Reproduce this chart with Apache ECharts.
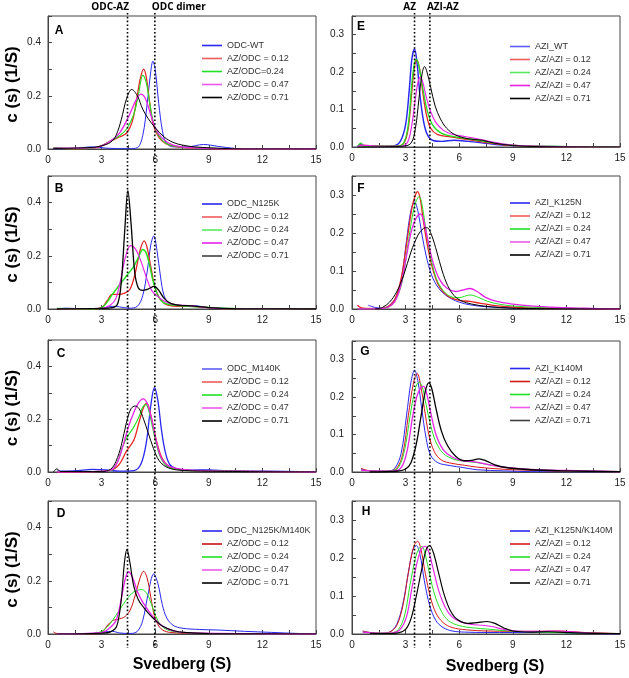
<!DOCTYPE html>
<html><head><meta charset="utf-8">
<script src="https://cdn.jsdelivr.net/npm/echarts@6/dist/echarts.min.js"></script>
<style>html,body{margin:0;padding:0;background:#fff}#c{width:629px;height:678px}</style>
</head><body><div id="c"></div>
<script>
// ---------- DATA (Svedberg, c(s)) ----------
const xTicksLabels = [0, 3, 6, 9, 12, 15];
const leftLines = [4.45, 5.98];
const rightLines = [3.5, 4.36];
const leftLineLabels = ['ODC-AZ', 'ODC dimer'];
const rightLineLabels = ['AZ', 'AZI-AZ'];

const namesA = ['ODC-WT', 'AZ/ODC = 0.12', 'AZ/ODC=0.24', 'AZ/ODC = 0.47', 'AZ/ODC = 0.71'];
const namesB = ['ODC_N125K', 'AZ/ODC = 0.12', 'AZ/ODC = 0.24', 'AZ/ODC = 0.47', 'AZ/ODC = 0.71'];
const namesC = ['ODC_M140K', 'AZ/ODC = 0.12', 'AZ/ODC = 0.24', 'AZ/ODC = 0.47', 'AZ/ODC = 0.71'];
const namesD = ['ODC_N125K/M140K', 'AZ/ODC = 0.12', 'AZ/ODC = 0.24', 'AZ/ODC = 0.47', 'AZ/ODC = 0.71'];
const namesE = ['AZI_WT', 'AZ/AZI = 0.12', 'AZ/AZI = 0.24', 'AZ/AZI = 0.47', 'AZ/AZI = 0.71'];
const namesF = ['AZI_K125N', 'AZ/AZI = 0.12', 'AZ/AZI = 0.24', 'AZ/AZI = 0.47', 'AZ/AZI = 0.71'];
const namesG = ['AZI_K140M', 'AZ/AZI = 0.12', 'AZ/AZI = 0.24', 'AZ/AZI = 0.47', 'AZ/AZI = 0.71'];
const namesH = ['AZI_K125N/K140M', 'AZ/AZI = 0.12', 'AZ/AZI = 0.24', 'AZ/AZI = 0.47', 'AZ/AZI = 0.71'];

const A_WT = [[0.3,0],[1.5,0.002],[2.5,0.008],[3.3,0.003],[4.5,0.001],[5.0,0.005],[5.3,0.05],[5.55,0.17],[5.75,0.29],[5.87,0.33],[6.0,0.3],[6.2,0.17],[6.4,0.07],[6.6,0.025],[7,0.008],[7.8,0.008],[8.7,0.017],[9.5,0.01],[10.5,0.002],[12,0],[15,0]];
const A_12 = [[0.3,0.003],[1.5,0],[2.5,0.003],[3.0,0.012],[3.5,0.03],[4.0,0.045],[4.4,0.06],[4.7,0.1],[4.95,0.18],[5.15,0.26],[5.35,0.3],[5.5,0.27],[5.7,0.17],[5.9,0.09],[6.2,0.045],[6.6,0.02],[7.2,0.008],[8.5,0.003],[10,0],[15,0]];
const A_24 = [[0.3,0.005],[1.5,0],[2.5,0.003],[3.0,0.012],[3.5,0.03],[4.0,0.05],[4.4,0.075],[4.8,0.13],[5.05,0.2],[5.31,0.278],[5.5,0.25],[5.7,0.17],[5.9,0.1],[6.2,0.05],[6.6,0.022],[7.2,0.01],[8.5,0.004],[10,0.001],[15,0]];
const A_47 = [[0.3,0.003],[2.5,0.004],[3.0,0.012],[3.5,0.03],[4.0,0.06],[4.5,0.12],[4.9,0.18],[5.2,0.206],[5.45,0.19],[5.7,0.14],[6.0,0.08],[6.4,0.04],[7.0,0.015],[8,0.005],[10,0.001],[15,0]];
const A_71 = [[0.3,0.002],[2.5,0.006],[3.0,0.012],[3.5,0.025],[3.8,0.05],[4.1,0.11],[4.4,0.19],[4.69,0.224],[5.0,0.2],[5.3,0.15],[5.6,0.115],[6.0,0.08],[6.5,0.045],[7.0,0.025],[7.5,0.015],[8.2,0.008],[9.5,0.003],[11,0],[15,0]];

const B_WT = [[0.5,0],[1,0.003],[2,0.001],[3,0.002],[3.6,0.01],[4.0,0.008],[4.5,0.003],[5.0,0.01],[5.3,0.05],[5.55,0.14],[5.75,0.24],[5.92,0.275],[6.1,0.22],[6.3,0.12],[6.5,0.05],[6.8,0.02],[7.5,0.01],[8.2,0.012],[9,0.005],[10.5,0.001],[15,0]];
const B_12 = [[0.5,0],[2.5,0],[3.0,0.005],[3.3,0.03],[3.6,0.055],[3.9,0.055],[4.3,0.06],[4.6,0.075],[4.9,0.14],[5.15,0.22],[5.38,0.256],[5.55,0.23],[5.75,0.16],[6.0,0.08],[6.3,0.035],[6.7,0.015],[7.5,0.01],[8,0.01],[9,0.005],[10,0.001],[15,0]];
const B_24 = [[0.5,0.002],[2.5,0],[3.0,0.005],[3.3,0.025],[3.6,0.055],[4.0,0.09],[4.4,0.125],[4.8,0.16],[5.1,0.2],[5.3,0.224],[5.5,0.21],[5.7,0.16],[5.9,0.1],[6.2,0.045],[6.6,0.02],[7.5,0.012],[8.5,0.008],[10,0.002],[15,0]];
const B_47 = [[0.5,0],[3.0,0.003],[3.5,0.015],[3.8,0.04],[4.1,0.12],[4.35,0.2],[4.62,0.238],[4.9,0.225],[5.2,0.18],[5.5,0.12],[5.8,0.07],[6.1,0.05],[6.5,0.03],[7.0,0.018],[8,0.012],[9,0.005],[10,0.001],[15,0]];
const B_71 = [[0.5,0],[3.0,0.002],[3.6,0.005],[3.9,0.02],[4.1,0.1],[4.3,0.3],[4.47,0.445],[4.65,0.32],[4.85,0.14],[5.05,0.08],[5.3,0.07],[5.6,0.075],[5.95,0.085],[6.2,0.07],[6.5,0.04],[6.9,0.02],[7.5,0.013],[8,0.012],[9,0.005],[10.5,0.001],[15,0]];

const C_WT = [[0.5,0.003],[1.5,0.004],[2.5,0.01],[3.2,0.008],[4.0,0.003],[4.8,0.005],[5.2,0.03],[5.5,0.11],[5.75,0.25],[5.96,0.32],[6.15,0.27],[6.35,0.16],[6.55,0.08],[6.8,0.03],[7.2,0.012],[8,0.007],[9,0.008],[10,0.005],[12,0.003],[15,0]];
const C_12 = [[0.5,0],[3.0,0.002],[3.6,0.008],[4.0,0.03],[4.4,0.08],[4.8,0.12],[5.1,0.19],[5.35,0.245],[5.53,0.26],[5.7,0.23],[5.9,0.17],[6.1,0.11],[6.4,0.05],[6.8,0.02],[7.5,0.008],[9,0.004],[15,0]];
const C_24 = [[0.5,0.002],[3.0,0.002],[3.6,0.008],[3.9,0.04],[4.2,0.1],[4.5,0.14],[4.8,0.17],[5.1,0.21],[5.3,0.245],[5.48,0.255],[5.65,0.23],[5.85,0.17],[6.05,0.11],[6.3,0.055],[6.7,0.02],[7.5,0.008],[9,0.004],[15,0]];
const C_47 = [[0.5,0],[3.0,0.002],[3.6,0.01],[3.9,0.04],[4.2,0.1],[4.5,0.17],[4.8,0.225],[5.05,0.26],[5.31,0.277],[5.55,0.26],[5.8,0.2],[6.05,0.12],[6.3,0.06],[6.7,0.025],[7.5,0.01],[9,0.004],[15,0]];
const C_71 = [[0.3,0],[0.5,0.012],[0.7,0.002],[2,0.002],[3.0,0.002],[3.5,0.01],[3.8,0.04],[4.1,0.1],[4.4,0.19],[4.65,0.24],[4.88,0.25],[5.1,0.24],[5.35,0.2],[5.6,0.15],[5.9,0.09],[6.2,0.045],[6.6,0.02],[7.2,0.008],[9,0.003],[15,0]];

const D_WT = [[0.5,0],[2.5,0.002],[3.2,0.008],[3.6,0.01],[4.0,0.004],[4.6,0.002],[5.0,0.01],[5.3,0.05],[5.6,0.15],[5.92,0.226],[6.15,0.19],[6.4,0.11],[6.65,0.06],[7.0,0.033],[7.5,0.022],[8.5,0.017],[9.5,0.015],[11,0.01],[12.5,0.006],[14,0.002],[15,0.001]];
const D_12 = [[0.3,0.008],[0.5,0.002],[2.5,0],[3.0,0.005],[3.3,0.03],[3.6,0.05],[3.9,0.055],[4.3,0.065],[4.6,0.09],[4.9,0.15],[5.15,0.21],[5.35,0.236],[5.55,0.21],[5.75,0.14],[5.95,0.07],[6.2,0.03],[6.5,0.012],[7,0.005],[9,0.002],[15,0]];
const D_24 = [[0.5,0],[2.5,0.002],[3.0,0.01],[3.3,0.025],[3.6,0.05],[4.0,0.09],[4.4,0.13],[4.8,0.158],[5.25,0.167],[5.55,0.15],[5.8,0.11],[6.05,0.065],[6.3,0.035],[6.7,0.015],[7.5,0.006],[9,0.002],[15,0]];
const D_47 = [[0.5,0],[3.0,0.005],[3.4,0.02],[3.8,0.05],[4.1,0.13],[4.3,0.2],[4.51,0.234],[4.75,0.21],[5.0,0.16],[5.3,0.12],[5.6,0.09],[6.0,0.055],[6.4,0.03],[7.0,0.012],[8,0.004],[15,0]];
const D_71 = [[0.5,0],[3.0,0.003],[3.5,0.008],[3.85,0.03],[4.1,0.13],[4.28,0.27],[4.42,0.318],[4.58,0.27],[4.8,0.18],[5.05,0.13],[5.35,0.1],[5.7,0.072],[6.0,0.052],[6.4,0.03],[7.0,0.013],[7.6,0.006],[9,0.002],[15,0]];

const E_WT = [[0.3,0],[0.5,0.008],[0.7,0.002],[1.5,0.002],[2.3,0.003],[2.7,0.015],[3.0,0.06],[3.2,0.15],[3.35,0.235],[3.5,0.262],[3.65,0.22],[3.8,0.14],[4.0,0.07],[4.2,0.035],[4.5,0.018],[5.0,0.015],[5.7,0.018],[6.5,0.015],[7.5,0.01],[8.5,0.005],[10,0.002],[15,0]];
const E_12 = [[0.3,0],[0.5,0.005],[1.5,0.002],[2.5,0.002],[2.9,0.01],[3.15,0.05],[3.35,0.15],[3.5,0.215],[3.63,0.233],[3.78,0.21],[3.95,0.15],[4.15,0.09],[4.4,0.05],[4.8,0.033],[5.5,0.027],[6.5,0.02],[7.5,0.012],[8.5,0.006],[10,0.002],[15,0]];
const E_24 = [[0.3,0],[0.5,0.01],[0.7,0.002],[2.5,0.002],[2.9,0.012],[3.15,0.06],[3.35,0.17],[3.48,0.22],[3.6,0.235],[3.75,0.215],[3.95,0.16],[4.2,0.1],[4.5,0.06],[5.0,0.037],[5.8,0.027],[6.8,0.02],[7.8,0.012],[9,0.005],[10.5,0.002],[15,0]];
const E_47 = [[0.3,0],[0.5,0.005],[1.5,0.002],[2.7,0.002],[3.1,0.012],[3.35,0.06],[3.55,0.13],[3.7,0.175],[3.82,0.186],[3.95,0.175],[4.15,0.135],[4.4,0.095],[4.7,0.065],[5.1,0.045],[5.6,0.034],[6.3,0.028],[7.0,0.022],[7.8,0.014],[8.8,0.006],[10.5,0.002],[15,0]];
const E_71 = [[0.3,0],[2.8,0.002],[3.3,0.01],[3.55,0.05],[3.75,0.13],[3.92,0.195],[4.06,0.215],[4.2,0.2],[4.4,0.16],[4.65,0.11],[4.95,0.075],[5.3,0.05],[5.8,0.032],[6.5,0.022],[7.3,0.018],[8.0,0.01],[9,0.004],[10.5,0.001],[15,0]];

const F_WT = [[0.9,0.01],[1.3,0.004],[1.7,0.002],[2.1,0.01],[2.5,0.035],[2.8,0.09],[3.05,0.18],[3.3,0.26],[3.5,0.282],[3.7,0.255],[3.9,0.2],[4.15,0.14],[4.45,0.09],[4.8,0.058],[5.2,0.038],[5.6,0.026],[6.0,0.018],[6.6,0.011],[7.5,0.006],[9,0.003],[11,0.001],[15,0]];
const F_12 = [[0.3,0.01],[0.6,0.002],[1.5,0.001],[2.0,0.006],[2.4,0.025],[2.75,0.08],[3.05,0.17],[3.35,0.265],[3.55,0.3],[3.67,0.309],[3.82,0.29],[4.0,0.23],[4.25,0.16],[4.55,0.1],[4.9,0.058],[5.4,0.033],[6.0,0.023],[6.6,0.02],[7.2,0.015],[8,0.009],[9,0.005],[10.5,0.002],[15,0]];
const F_24 = [[0.3,0],[1.5,0.001],[2.0,0.004],[2.4,0.02],[2.8,0.07],[3.1,0.16],[3.4,0.25],[3.6,0.285],[3.76,0.296],[3.9,0.28],[4.1,0.22],[4.35,0.15],[4.65,0.09],[5.0,0.055],[5.5,0.033],[6.0,0.03],[6.6,0.037],[7.1,0.03],[7.6,0.02],[8.2,0.013],[9,0.008],[10.5,0.004],[12,0.002],[15,0.001]];
const F_47 = [[0.3,0],[1.5,0.001],[2.0,0.004],[2.4,0.02],[2.75,0.065],[3.05,0.14],[3.35,0.21],[3.6,0.24],[3.82,0.25],[4.0,0.235],[4.25,0.18],[4.55,0.12],[4.9,0.078],[5.3,0.055],[5.8,0.046],[6.2,0.05],[6.6,0.054],[7.0,0.046],[7.5,0.03],[8.1,0.02],[9,0.013],[10,0.008],[11.5,0.004],[13,0.002],[15,0]];
const F_71 = [[1.3,0],[1.7,0.004],[2.1,0.018],[2.5,0.045],[2.9,0.09],[3.3,0.15],[3.7,0.195],[4.0,0.212],[4.2,0.214],[4.45,0.195],[4.75,0.15],[5.05,0.1],[5.35,0.062],[5.7,0.036],[6.1,0.022],[6.7,0.013],[7.5,0.007],[9,0.002],[15,0]];

const G_WT = [[0.5,0.008],[1.0,0.003],[2.0,0.002],[2.4,0.01],[2.75,0.05],[3.05,0.15],[3.3,0.24],[3.5,0.272],[3.7,0.24],[3.9,0.17],[4.15,0.09],[4.4,0.045],[4.8,0.025],[5.5,0.017],[6.2,0.012],[7,0.006],[8.5,0.003],[10,0.001],[15,0]];
const G_12 = [[0.5,0.01],[1.0,0.003],[2.0,0.002],[2.5,0.01],[2.85,0.05],[3.15,0.15],[3.45,0.24],[3.65,0.263],[3.85,0.23],[4.05,0.17],[4.3,0.1],[4.6,0.055],[5.0,0.032],[5.6,0.023],[6.3,0.018],[7.0,0.013],[8,0.009],[9,0.006],[10.5,0.004],[12,0.002],[15,0]];
const G_24 = [[0.5,0.005],[1.5,0.002],[2.2,0.003],[2.6,0.012],[2.95,0.06],[3.25,0.15],[3.5,0.215],[3.65,0.236],[3.78,0.239],[3.95,0.225],[4.15,0.18],[4.4,0.125],[4.7,0.08],[5.1,0.05],[5.7,0.034],[6.4,0.028],[7.0,0.025],[7.6,0.02],[8.5,0.013],[10,0.007],[12,0.003],[15,0.001]];
const G_47 = [[0.5,0.005],[1.5,0.002],[2.4,0.003],[2.8,0.015],[3.1,0.06],[3.4,0.15],[3.65,0.205],[3.85,0.225],[4.0,0.229],[4.15,0.215],[4.4,0.16],[4.7,0.1],[5.1,0.06],[5.6,0.04],[6.2,0.03],[6.9,0.027],[7.5,0.021],[8.5,0.013],[10,0.007],[12,0.004],[14,0.002],[15,0.001]];
const G_71 = [[1.0,0],[2.5,0.002],[3.0,0.008],[3.3,0.025],[3.6,0.075],[3.9,0.16],[4.1,0.215],[4.29,0.238],[4.45,0.225],[4.7,0.17],[5.0,0.11],[5.35,0.07],[5.8,0.042],[6.3,0.03],[6.7,0.031],[7.1,0.035],[7.5,0.03],[8.0,0.019],[8.6,0.012],[10,0.006],[12,0.003],[15,0.001]];

const H_WT = [[0.6,0.007],[1.0,0.004],[1.6,0.002],[2.1,0.005],[2.5,0.025],[2.85,0.08],[3.15,0.16],[3.4,0.22],[3.6,0.233],[3.8,0.21],[4.05,0.14],[4.35,0.075],[4.7,0.035],[5.1,0.017],[5.6,0.008],[6.3,0.005],[7.5,0.004],[9,0.004],[11,0.005],[12.5,0.002],[15,0]];
const H_12 = [[0.6,0.008],[1.0,0.004],[1.6,0.002],[2.1,0.005],[2.5,0.022],[2.85,0.075],[3.15,0.16],[3.45,0.23],[3.67,0.244],[3.85,0.225],[4.1,0.16],[4.4,0.095],[4.7,0.055],[5.1,0.03],[5.6,0.017],[6.4,0.011],[7.5,0.008],[9,0.007],[10.5,0.007],[11.5,0.008],[13,0.004],[15,0.001]];
const H_24 = [[0.6,0.005],[1.5,0.002],[2.2,0.003],[2.6,0.012],[2.95,0.05],[3.25,0.13],[3.55,0.2],[3.75,0.225],[3.91,0.23],[4.1,0.21],[4.35,0.155],[4.65,0.1],[5.0,0.06],[5.4,0.035],[6.0,0.022],[6.8,0.016],[7.6,0.013],[8.5,0.009],[10,0.006],[12,0.003],[15,0.001]];
const H_47 = [[0.6,0.005],[1.5,0.002],[2.3,0.003],[2.7,0.012],[3.05,0.045],[3.35,0.12],[3.65,0.19],[3.9,0.225],[4.1,0.231],[4.3,0.215],[4.55,0.17],[4.85,0.115],[5.2,0.072],[5.6,0.045],[6.1,0.032],[6.7,0.025],[7.3,0.023],[7.9,0.019],[8.5,0.012],[9.2,0.008],[10.5,0.007],[11.5,0.008],[13,0.003],[15,0.001]];
const H_71 = [[1.0,0.002],[2.0,0.001],[2.6,0.003],[3.0,0.012],[3.3,0.04],[3.6,0.1],[3.9,0.17],[4.15,0.222],[4.34,0.233],[4.55,0.215],[4.85,0.16],[5.15,0.105],[5.5,0.062],[5.9,0.038],[6.5,0.028],[7.0,0.03],[7.55,0.033],[8.0,0.028],[8.5,0.016],[9.0,0.008],[10,0.005],[11,0.006],[12.5,0.003],[15,0.001]];

// ---------- LAYOUT / STYLE ----------
const COLORS = ['#2828f0', '#e82424', '#22e022', '#e622e6', '#000000'];
const panels = [
  {L:'A', side:0, rect:[48,16,268,133], names:namesA, data:[A_WT,A_12,A_24,A_47,A_71], lw:[1,2,1.5,2,1], lgTop:40, letter:[59,31]},
  {L:'B', side:0, rect:[48,176,268,133], names:namesB, data:[B_WT,B_12,B_24,B_47,B_71], lw:[1,2,2.5,1.5,2], lgTop:198.5, letter:[59,189]},
  {L:'C', side:0, rect:[48,340,268,132], names:namesC, data:[C_WT,C_12,C_24,C_47,C_71], lw:[2,2,1.5,2,1], lgTop:363.5, letter:[61,354]},
  {L:'D', side:0, rect:[48,501,268,133], names:namesD, data:[D_WT,D_12,D_24,D_47,D_71], lw:[1,1,1,2,1.5], lgTop:525.5, letter:[61,514], red:'#c81010'},
  {L:'E', side:1, rect:[352,16,268,131], names:namesE, data:[E_WT,E_12,E_24,E_47,E_71], lw:[2.5,2,2,1.5,1], lgTop:41, letter:[361,27]},
  {L:'F', side:1, rect:[352,176,268,133], names:namesF, data:[F_WT,F_12,F_24,F_47,F_71], lw:[1,2,1,2,1], lgTop:197.5, letter:[361,189]},
  {L:'G', side:1, rect:[352,341,268,131], names:namesG, data:[G_WT,G_12,G_24,G_47,G_71], lw:[1,1,1,2,2], lgTop:363, letter:[365,352], red:'#d81818'},
  {L:'H', side:1, rect:[352,501,268,133], names:namesH, data:[H_WT,H_12,H_24,H_47,H_71], lw:[1,1,1,1.5,1.5], lgTop:525.5, letter:[366,512], red:'#d81818'}
];

const AX = '#444', TXT = '#222';
const grid = [], xAxis = [], yAxis = [], series = [], legend = [], graphic = [];
panels.forEach((p, i) => {
  grid.push({left:p.rect[0], top:p.rect[1], width:p.rect[2], height:p.rect[3], show:true,
    borderColor:AX, borderWidth:1, backgroundColor:'transparent', outerBoundsMode:'none', containLabel:false});
  xAxis.push({gridIndex:i, type:'value', min:0, max:15, interval:1.5,
    axisLine:{show:true, onZero:false, lineStyle:{color:AX, width:1}},
    axisTick:{show:true, inside:true, length:4, lineStyle:{color:AX}},
    splitLine:{show:false},
    axisLabel:{show:true, color:TXT, fontSize:10, fontFamily:'Liberation Sans, Arial', margin:6,
      formatter:v => { const r = Math.round(v); return (Math.abs(v - r) < 1e-6 && xTicksLabels.includes(r)) ? String(r) : ''; },
      showMinLabel:true, showMaxLabel:true}
  });
  const left = p.side === 0;
  yAxis.push({gridIndex:i, type:'value', min:0, max:left ? 0.5 : 0.35, interval:left ? 0.1 : 0.05,
    axisLine:{show:true, onZero:false, lineStyle:{color:AX, width:1}},
    axisTick:{show:true, inside:true, length:4, lineStyle:{color:AX}},
    splitLine:{show:false},
    axisLabel:{color:TXT, fontSize:10, fontFamily:'Liberation Sans, Arial', margin:left ? 7 : 8,
      formatter:v => {
        const k = Math.round(v * 100);
        if (left) return (k % 20 === 0 && k <= 40) ? v.toFixed(1) : '';
        return (k % 10 === 0 && k <= 30) ? v.toFixed(1) : '';
      }}
  });
  const cols = COLORS.slice(); if (p.red) cols[1] = p.red;
  p.data.forEach((d, j) => {
    series.push({type:'line', name:p.names[j], xAxisIndex:i, yAxisIndex:i, data:d,
      smooth:0.35, symbol:'none', showSymbol:false, clip:true, silent:true, animation:false,
      color:cols[j], lineStyle:{color:cols[j], width:1 + (p.lw[j] - 1) * 0.3}, z:2 + j});
  });
  legend.push({orient:'vertical', left:left ? 202 : 510, top:p.lgTop, padding:0,
    itemWidth:20, itemHeight:1.6, itemGap:2, selectedMode:false, icon:'rect',
    textStyle:{color:'#333', fontSize:9, lineHeight:11, fontFamily:'Liberation Sans, Arial'},
    data:p.names.map((n, j) => ({name:n, icon:'rect',
      itemStyle:{color:cols[j], opacity: p.lw[j] >= 2 ? 0.75 : 1, borderWidth:0}}))
  });
  graphic.push({type:'text', x:p.letter[0], y:p.letter[1], silent:true,
    style:{text:p.L, fill:'#000', fontSize:12, fontWeight:'bold', fontFamily:'Liberation Sans, Arial', align:'center', verticalAlign:'middle'}});
  if (left) {
    graphic.push({type:'text', x:12.5, y:p.rect[1] + p.rect[3] / 2 + 2, rotation:Math.PI / 2, silent:true,
      style:{text:'c (s) (1/S)', fill:'#000', fontSize:17, fontWeight:'bold', fontFamily:'Liberation Sans, Arial', align:'center', verticalAlign:'middle'}});
  }
});
graphic.push({type:'text', x:182, y:665, silent:true,
  style:{text:'Svedberg (S)', fill:'#000', fontSize:16, fontWeight:'bold', fontFamily:'Liberation Sans, Arial', align:'center', verticalAlign:'middle'}});
graphic.push({type:'text', x:495, y:667, silent:true,
  style:{text:'Svedberg (S)', fill:'#000', fontSize:16, fontWeight:'bold', fontFamily:'Liberation Sans, Arial', align:'center', verticalAlign:'middle'}});

const chart = echarts.init(document.getElementById('c'), null, {renderer:'canvas', width:629, height:678});
chart.setOption({backgroundColor:'#fff', animation:false, grid, xAxis, yAxis, series, legend, graphic});

// dotted reference lines placed through the library's own scales
const extra = [];
function refLines(gridIndex, vals, labels) {
  const xs = vals.map(v => chart.convertToPixel({gridIndex}, [v, 0])[0]);
  xs.forEach(x => extra.push({type:'line', silent:true, z:100,
    shape:{x1:x, y1:13, x2:x, y2:648},
    style:{stroke:'#000', lineWidth:1.6, lineDash:[1.6, 2.2]}}));
  extra.push({type:'text', x:xs[0] + 1.5, y:7, silent:true, z:100,
    style:{text:labels[0], fill:'#000', fontSize:10, fontWeight:'bold', fontFamily:'Open Sans', align:'right', verticalAlign:'middle'}});
  extra.push({type:'text', x:xs[1] - 3, y:7, silent:true, z:100,
    style:{text:labels[1], fill:'#000', fontSize:10, fontWeight:'bold', fontFamily:'Open Sans', align:'left', verticalAlign:'middle'}});
}
refLines(0, leftLines, leftLineLabels);
refLines(4, rightLines, rightLineLabels);
chart.setOption({graphic: graphic.concat(extra)});
</script>
</body></html>
